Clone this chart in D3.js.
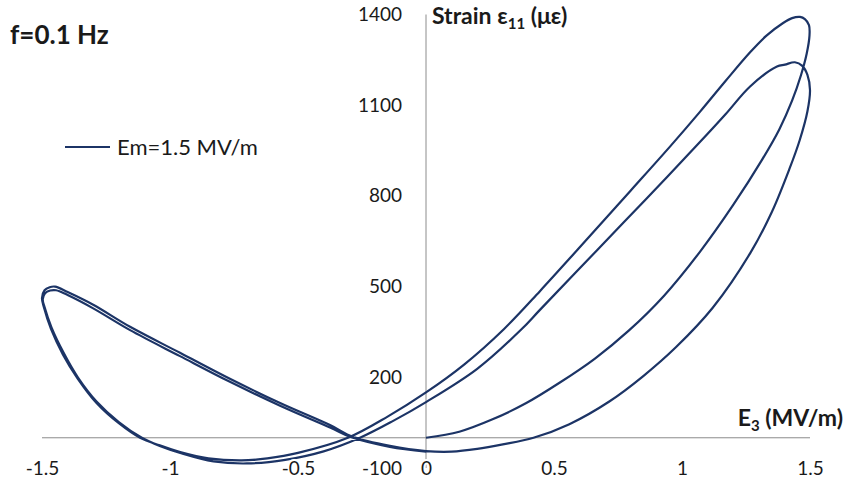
<!DOCTYPE html>
<html>
<head>
<meta charset="utf-8">
<script src="https://cdn.jsdelivr.net/npm/d3@7"></script>
<style>
  body { margin: 0; background: #ffffff; }
  svg { display: block; font-family: Lato, "Open Sans", sans-serif; }
</style>
</head>
<body>
<svg id="chart" width="846" height="486"></svg>
<script>
// Electric field E3 (MV/m), sampled along two drive cycles
const fieldE = [
  0, 0.13, 0.26, 0.39, 0.52, 0.66, 0.793, 0.93, 1.07, 1.2, 1.313, 1.38, 1.43, 1.465, 1.487, 1.498,
  1.496, 1.48, 1.461,
  1.43, 1.395, 1.33, 1.266, 1.17, 1.07, 0.953, 0.80, 0.59, 0.445, 0.305, 0.15, 0, -0.15, -0.305, -0.5, -0.62, -0.72,
  -0.85, -0.96, -1.04, -1.117, -1.2, -1.287, -1.36, -1.418, -1.465, -1.492, -1.5, -1.49, -1.47, -1.449,
  -1.40, -1.30, -1.156, -0.961, -0.766, -0.570, -0.375, -0.285, -0.141, 0,
  0.1, 0.2, 0.3, 0.42, 0.56, 0.716, 0.85, 0.977, 1.12, 1.266, 1.35, 1.42, 1.46, 1.49, 1.5,
  1.49, 1.47, 1.441, 1.402, 1.371,
  1.266, 1.17, 1.07, 0.86, 0.67, 0.445, 0.371, 0.2, 0, -0.13, -0.258, -0.4, -0.55, -0.70, -0.83, -0.96,
  -1.04, -1.11, -1.2, -1.287, -1.36, -1.415, -1.463, -1.49, -1.497, -1.488, -1.468, -1.445,
  -1.40, -1.30, -1.156, -0.961, -0.766, -0.570, -0.375, -0.285, -0.141, 0
];

// Strain ε11 (με) at each field sample
const strainS = [
  0, 20, 61, 114, 181, 262, 355, 470, 615, 770, 920, 1020, 1115, 1200, 1270, 1330,
  1365, 1385, 1392,
  1388, 1372, 1330, 1275, 1180, 1078, 963, 818, 620, 485, 360, 243, 150, 70, 0, -50, -68, -75,
  -68, -47, -25, 0, 48, 115, 195, 275, 360, 430, 462, 488, 498, 500,
  482, 440, 367, 281, 195, 115, 42, 3, -27, -44,
  -46, -37, -22, 0, 45, 120, 205, 300, 430, 610, 745, 890, 985, 1080, 1150,
  1200, 1230, 1242, 1234, 1228,
  1162, 1070, 978, 790, 622, 423, 357, 228, 118, 55, 0, -45, -73, -85, -78, -50,
  -27, 0, 52, 120, 200, 280, 365, 432, 458, 478, 487, 488,
  472, 428, 356, 270, 185, 106, 34, 0, -30, -46
];

const xTicks = [-1.5, -1, -0.5, 0, 0.5, 1, 1.5];
const yTicks = [-100, 200, 500, 800, 1100, 1400];
const seriesName = "Em=1.5 MV/m";
const frequencyLabel = "f=0.1 Hz";

const lineColor = "#1c3466";
const axisColor = "#8c8c8c";
const textColor = "#1a1a1a";
const tickSize = 19;

const svg = d3.select("#chart");
svg.append("rect").attr("width", 846).attr("height", 486).attr("fill", "#ffffff");

const x = d3.scaleLinear().domain([-1.5, 1.5]).range([42, 810]);
const y = d3.scaleLinear().domain([-100, 1400]).range([468, 14.5]);

// Axis lines crossing at the origin
svg.append("line")
  .attr("x1", x(-1.5)).attr("x2", x(1.5))
  .attr("y1", y(0)).attr("y2", y(0))
  .attr("stroke", axisColor).attr("stroke-width", 1);
svg.append("line")
  .attr("x1", x(0)).attr("x2", x(0))
  .attr("y1", y(1400)).attr("y2", y(-100))
  .attr("stroke", axisColor).attr("stroke-width", 1);

// Strain–field loop
const points = fieldE.map((e, i) => [e, strainS[i]]);
const loop = d3.line()
  .x(d => x(d[0]))
  .y(d => y(d[1]))
  .curve(d3.curveCatmullRom.alpha(0.5));
svg.append("path")
  .datum(points)
  .attr("d", loop)
  .attr("fill", "none")
  .attr("stroke", lineColor)
  .attr("stroke-width", 2.2)
  .attr("stroke-linejoin", "round");

// Tick labels (axis lines drawn separately above)
const xAxis = d3.axisBottom(x).tickValues(xTicks).tickSize(0).tickPadding(0)
  .tickFormat(d => String(d));
const gx = svg.append("g").attr("transform", `translate(0,${y(-100) - 7})`).call(xAxis);
gx.select(".domain").remove();
gx.selectAll("text")
  .attr("font-size", tickSize).attr("font-family", "Lato, sans-serif").attr("fill", textColor)
  .attr("stroke", "#ffffff").attr("stroke-width", 4).attr("paint-order", "stroke");

const yAxis = d3.axisLeft(y).tickValues(yTicks).tickSize(0).tickPadding(0)
  .tickFormat(d => String(d));
const gy = svg.append("g").attr("transform", `translate(402,0)`).call(yAxis);
gy.select(".domain").remove();
gy.selectAll("text")
  .attr("font-size", tickSize).attr("font-family", "Lato, sans-serif").attr("fill", textColor);

// Axis titles
const yTitle = svg.append("text")
  .attr("x", 432).attr("y", 24)
  .attr("font-size", 23).attr("font-weight", "bold").attr("fill", textColor);
yTitle.append("tspan").text("Strain ε");
yTitle.append("tspan").attr("font-size", 15).attr("dy", 5).text("11");
yTitle.append("tspan").attr("dy", -5).text(" (με)");

const xTitle = svg.append("text")
  .attr("x", 843).attr("y", 426).attr("text-anchor", "end")
  .attr("font-size", 23).attr("font-weight", "bold").attr("fill", textColor);
xTitle.append("tspan").text("E");
xTitle.append("tspan").attr("font-size", 15).attr("dy", 5).text("3");
xTitle.append("tspan").attr("dy", -5).text(" (MV/m)");

// Frequency annotation
svg.append("text")
  .attr("x", 10).attr("y", 44)
  .attr("font-size", 26).attr("font-weight", "bold").attr("fill", textColor)
  .text(frequencyLabel);

// Legend
svg.append("line")
  .attr("x1", 65).attr("x2", 110).attr("y1", 147).attr("y2", 147)
  .attr("stroke", lineColor).attr("stroke-width", 2.2);
svg.append("text")
  .attr("x", 117).attr("y", 155)
  .attr("font-size", 22).attr("fill", textColor)
  .text(seriesName);
</script>
</body>
</html>
